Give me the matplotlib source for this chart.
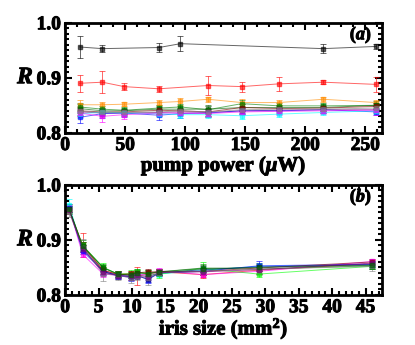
import matplotlib
matplotlib.use("Agg")
import matplotlib.pyplot as plt
import matplotlib.patheffects as pe
from matplotlib.ticker import MultipleLocator
import numpy as np

plt.rcParams['font.family'] = ['Liberation Serif', 'DejaVu Serif']
plt.rcParams['font.weight'] = 'bold'
plt.rcParams['axes.labelweight'] = 'bold'
plt.rcParams['mathtext.fontset'] = 'custom'
plt.rcParams['mathtext.it'] = 'Liberation Serif:italic:bold'
plt.rcParams['mathtext.rm'] = 'Liberation Serif:bold'
plt.rcParams['mathtext.bf'] = 'Liberation Serif:bold'

# panel (a): pump power
potencia = [12, 31, 49, 78, 96, 119, 147, 178, 215, 259]
serie_a = {
    'black':     ([12, 31, 78, 96, 215, 259],
                  [0.956, 0.953, 0.955, 0.962, 0.953, 0.957],
                  [0.020, 0.007, 0.009, 0.014, 0.008, 0.005]),
    'red':       ([12, 31, 49, 78, 119, 147, 178, 215, 259],
                  [0.890, 0.892, 0.884, 0.880, 0.886, 0.884, 0.889, 0.892, 0.888],
                  [0.015, 0.020, 0.007, 0.006, 0.018, 0.009, 0.013, 0.004, 0.014]),
    'darkorange': (potencia,
                  [0.851, 0.851, 0.852, 0.855, 0.857, 0.861, 0.855, 0.855, 0.861, 0.855],
                  [0.009, 0.005, 0.004, 0.004, 0.006, 0.005, 0.006, 0.004, 0.005, 0.004]),
    'green':     (potencia,
                  [0.847, 0.843, 0.841, 0.845, 0.847, 0.842, 0.853, 0.849, 0.849, 0.850],
                  [0.008, 0.006, 0.006, 0.006, 0.006, 0.006, 0.006, 0.005, 0.005, 0.005]),
    'darkgreen': (potencia,
                  [0.844, 0.840, 0.840, 0.843, 0.843, 0.843, 0.846, 0.846, 0.846, 0.850],
                  [0.008, 0.006, 0.006, 0.006, 0.006, 0.008, 0.006, 0.005, 0.006, 0.007]),
    'maroon':    (potencia,
                  [0.840, 0.838, 0.838, 0.841, 0.840, 0.838, 0.846, 0.844, 0.845, 0.848],
                  [0.007, 0.006, 0.006, 0.006, 0.006, 0.008, 0.006, 0.005, 0.006, 0.007]),
    'purple':    (potencia,
                  [0.838, 0.836, 0.836, 0.837, 0.838, 0.837, 0.840, 0.841, 0.842, 0.842],
                  [0.007, 0.006, 0.006, 0.006, 0.006, 0.007, 0.006, 0.005, 0.006, 0.006]),
    'blue':      (potencia,
                  [0.828, 0.835, 0.836, 0.832, 0.835, 0.836, 0.840, 0.840, 0.842, 0.838],
                  [0.010, 0.008, 0.008, 0.008, 0.008, 0.008, 0.006, 0.006, 0.006, 0.006]),
    'cyan':      (potencia,
                  [0.834, 0.838, 0.836, 0.835, 0.833, 0.833, 0.831, 0.834, 0.837, 0.840],
                  [0.007, 0.006, 0.006, 0.006, 0.006, 0.006, 0.005, 0.006, 0.005, 0.005]),
    'magenta':   (potencia,
                  [0.836, 0.830, 0.833, 0.836, 0.836, 0.835, 0.838, 0.839, 0.840, 0.841],
                  [0.008, 0.010, 0.008, 0.006, 0.006, 0.007, 0.006, 0.006, 0.006, 0.008]),
    'gray':      (potencia,
                  [0.839, 0.837, 0.837, 0.838, 0.840, 0.838, 0.842, 0.843, 0.843, 0.845],
                  [0.009, 0.008, 0.007, 0.006, 0.006, 0.010, 0.006, 0.005, 0.006, 0.007]),
}

# panel (b): iris size
iris = [0.6, 2.6, 5.7, 7.9, 9.8, 10.7, 12.4, 14.1, 20.6, 29.0, 46.0]
serie_b = {
    'cyan':      ([0.963, 0.884, 0.843, 0.835, 0.836, 0.838, 0.835, 0.838, 0.845, 0.852, 0.855],
                  [0.012, 0.006, 0.005, 0.006, 0.006, 0.006, 0.006, 0.006, 0.006, 0.006, 0.005]),
    'red':       ([0.955, 0.891, 0.844, 0.838, 0.838, 0.834, 0.838, 0.842, 0.837, 0.845, 0.857],
                  [0.008, 0.022, 0.006, 0.005, 0.006, 0.016, 0.006, 0.005, 0.006, 0.006, 0.006]),
    'magenta':   ([0.958, 0.874, 0.838, 0.836, 0.834, 0.838, 0.836, 0.844, 0.837, 0.843, 0.861],
                  [0.006, 0.005, 0.006, 0.005, 0.006, 0.006, 0.006, 0.005, 0.005, 0.005, 0.005]),
    'blue':      ([0.958, 0.880, 0.843, 0.835, 0.832, 0.836, 0.828, 0.840, 0.843, 0.853, 0.856],
                  [0.008, 0.006, 0.006, 0.006, 0.006, 0.006, 0.006, 0.006, 0.006, 0.008, 0.006]),
    'lime':      ([0.955, 0.890, 0.850, 0.838, 0.839, 0.842, 0.838, 0.838, 0.848, 0.838, 0.852],
                  [0.006, 0.006, 0.008, 0.006, 0.006, 0.006, 0.008, 0.008, 0.012, 0.006, 0.005]),
    'green':     ([0.957, 0.890, 0.850, 0.838, 0.836, 0.840, 0.840, 0.842, 0.849, 0.847, 0.853],
                  [0.008, 0.010, 0.006, 0.006, 0.006, 0.008, 0.006, 0.006, 0.007, 0.008, 0.006]),
    'maroon':    ([0.954, 0.888, 0.845, 0.837, 0.838, 0.840, 0.842, 0.842, 0.843, 0.849, 0.860],
                  [0.006, 0.008, 0.006, 0.006, 0.006, 0.006, 0.006, 0.005, 0.006, 0.006, 0.006]),
    'navy':      ([0.956, 0.885, 0.842, 0.836, 0.833, 0.835, 0.829, 0.840, 0.846, 0.851, 0.855],
                  [0.006, 0.006, 0.006, 0.006, 0.006, 0.006, 0.006, 0.005, 0.006, 0.008, 0.006]),
    'gray':      ([0.950, 0.888, 0.838, 0.836, 0.831, 0.835, 0.831, 0.840, 0.843, 0.847, 0.852],
                  [0.008, 0.014, 0.012, 0.008, 0.010, 0.008, 0.012, 0.006, 0.006, 0.010, 0.008]),
    'purple':    ([0.954, 0.884, 0.841, 0.835, 0.834, 0.836, 0.833, 0.841, 0.842, 0.846, 0.858],
                  [0.006, 0.006, 0.006, 0.006, 0.006, 0.006, 0.006, 0.005, 0.006, 0.006, 0.006]),
    'darkgreen': ([0.956, 0.889, 0.849, 0.838, 0.836, 0.840, 0.839, 0.842, 0.848, 0.850, 0.854],
                  [0.006, 0.008, 0.006, 0.006, 0.006, 0.006, 0.006, 0.005, 0.006, 0.006, 0.006]),
}

yticks = [0.8, 0.9, 1.0]
xticks_a = [0, 50, 100, 150, 200, 250]
xticks_b = [0, 5, 10, 15, 20, 25, 30, 35, 40, 45]

# trazo extra para imitar la tipografia gruesa del original
grueso = [pe.withStroke(linewidth=0.7, foreground='black')]


def estilo(ax, xticks, xmenor):
    ax.set_ylim(0.8, 1.0)
    ax.set_yticks(yticks, ['%.1f' % v for v in yticks])
    ax.set_xticks(xticks, [str(v) for v in xticks])
    ax.yaxis.set_minor_locator(MultipleLocator(0.01))
    ax.xaxis.set_minor_locator(MultipleLocator(xmenor))
    ax.tick_params(which='both', direction='in', top=True, right=True, width=1.5)
    ax.tick_params(which='major', length=5, labelsize=14, pad=3)
    ax.tick_params(which='minor', length=3)
    for s in ax.spines.values():
        s.set_linewidth(2)
    ax.set_ylabel('$R$', fontsize=17, labelpad=8, rotation=0, va='center',
                  path_effects=grueso)


fig = plt.figure(figsize=(4.15, 3.45), dpi=100)
ax1 = fig.add_axes([0.157, 0.615, 0.764, 0.319])
ax2 = fig.add_axes([0.157, 0.145, 0.764, 0.319])

for c, (x, y, e) in serie_a.items():
    ax1.errorbar(x, y, yerr=e, color=c, marker='s', ms=2.2, lw=0.7, alpha=0.6,
                 elinewidth=0.7, capsize=2, capthick=0.7)
ax1.set_xlim(0, 264)
estilo(ax1, xticks_a, 10)
ax1.set_xlabel('pump power ($\\mu$W)', fontsize=15, fontweight='bold', labelpad=0,
               path_effects=grueso)
ax1.text(0.968, 0.89, '($a$)', transform=ax1.transAxes, ha='right', va='center',
         fontsize=13, fontweight='bold', path_effects=grueso)

for c, (y, e) in serie_b.items():
    ax2.errorbar(iris, y, yerr=e, color=c, marker='s', ms=2.2, lw=0.7, alpha=0.6,
                 elinewidth=0.7, capsize=2, capthick=0.7)
ax2.set_xlim(0, 47.5)
estilo(ax2, xticks_b, 1)
ax2.set_xlabel('iris size (mm$^2$)', fontsize=15, fontweight='bold', labelpad=0,
               path_effects=grueso)
ax2.text(0.968, 0.89, '($b$)', transform=ax2.transAxes, ha='right', va='center',
         fontsize=13, fontweight='bold', path_effects=grueso)

fig.canvas.draw()
for ax in (ax1, ax2):
    for lab in ax.get_xticklabels() + ax.get_yticklabels():
        lab.set_path_effects(grueso)

fig.savefig('out.png', dpi=100)
